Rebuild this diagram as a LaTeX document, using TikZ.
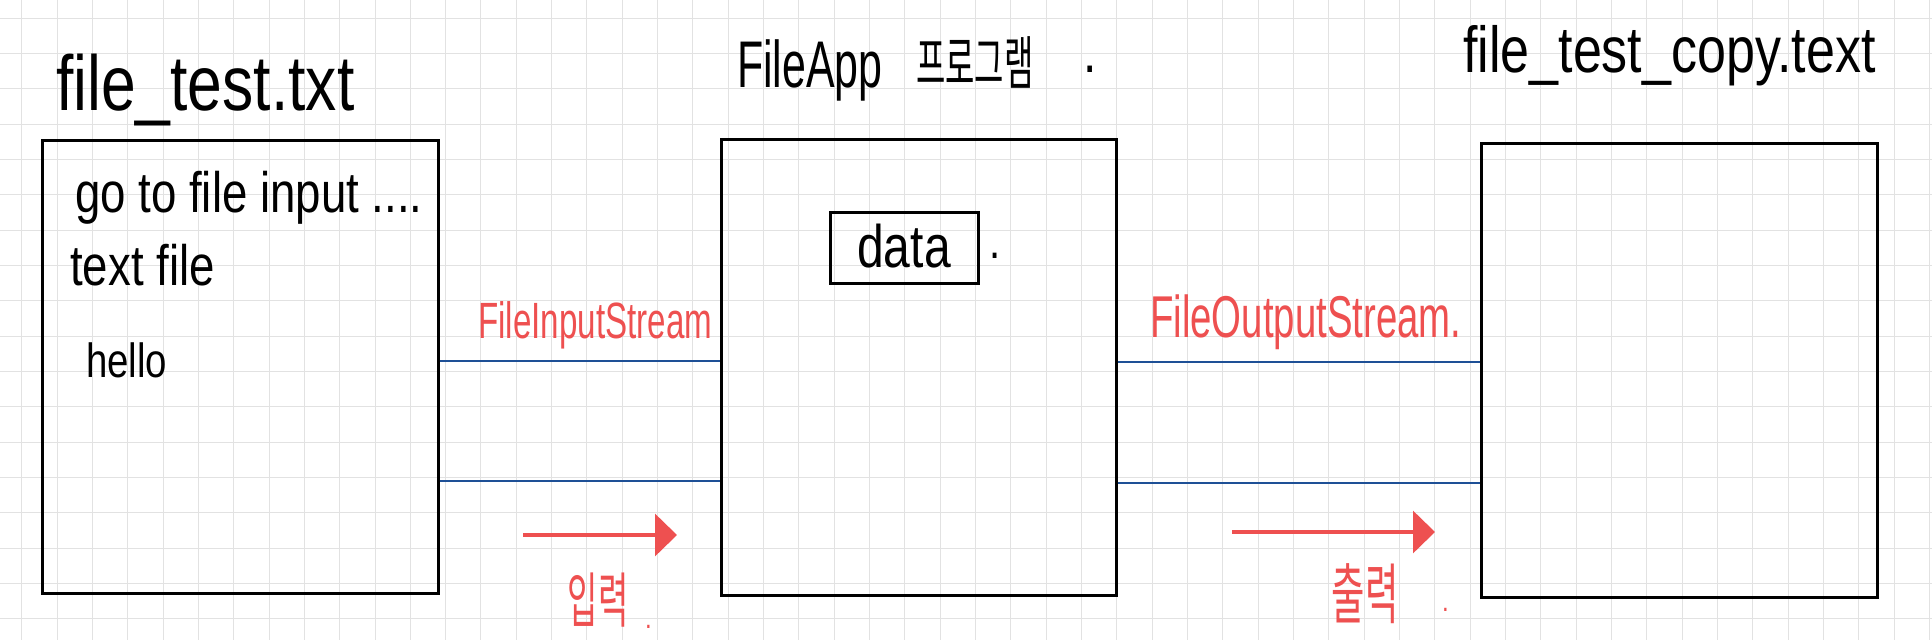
\documentclass[tikz,border=0pt]{standalone}
\usepackage{fontspec}
\setmainfont{Liberation Sans}
\newfontfamily\hand[FakeStretch=0.8]{Liberation Sans}
\newfontfamily\handn[FakeStretch=0.65]{Liberation Sans}
\newfontfamily\kr[FakeStretch=0.55]{Noto Sans CJK KR}
\usetikzlibrary{arrows.meta}
\definecolor{gridc}{RGB}{226,226,226}
\definecolor{flowblue}{RGB}{30,80,150}
\definecolor{penred}{RGB}{238,80,80}
\begin{document}
\begin{tikzpicture}[x=1pt,y=-1pt,
  gridline/.style={draw=gridc,line width=1pt},
  filebox/.style={draw=black,line width=3pt,rectangle,inner sep=0pt},
  flow/.style={draw=flowblue,line width=2.3pt},
  redarrow/.style={draw=penred,line width=3.5pt,-{Triangle[length=22pt,width=42pt]}},
  txt/.style={inner sep=0pt,anchor=base west},
  redtxt/.style={txt,text=penred}
]
\useasboundingbox (0,0) rectangle (1932,640);
\fill[white] (0,0) rectangle (1932,640);
% grid
\foreach \i in {0,...,54} {\draw[gridline] ({21.7+35.33*\i},0) -- ({21.7+35.33*\i},640);}
\foreach \j in {0,...,17} {\draw[gridline] (0,{18.3+35.33*\j}) -- (1932,{18.3+35.33*\j});}

% boxes
\node[filebox,minimum width=396pt,minimum height=453pt] (lbox) at (240,366.5) {};
\node[filebox,minimum width=395pt,minimum height=456pt] (mbox) at (918.5,367) {};
\node[filebox,minimum width=396pt,minimum height=454pt] (rbox) at (1679,370) {};
\node[filebox,minimum width=148pt,minimum height=71pt,font=\hand\fontsize{60}{60}\selectfont,text height=43pt,text depth=4pt] (data) at (904,247.5) {data};
\node[txt,font=\hand\fontsize{50}{50}\selectfont] (datadot) at (989,258) {.};

% titles
\node[txt,font=\hand\fontsize{78}{80}\selectfont] (tin) at (56,110) {file\_test.txt};
\node[txt,font=\handn\fontsize{66}{68}\selectfont] (tapp) at (737,87) {FileApp};
\node[txt,font=\kr\fontsize{58}{60}\selectfont] (tprog) at (916,84) {프로그램};
\node[txt,font=\hand\fontsize{60}{60}\selectfont] (tdot) at (1083,72) {.};
\node[txt,font=\hand\fontsize{65}{66}\selectfont] (tout) at (1463,72) {file\_test\_copy.text};

% file content
\node[txt,font=\hand\fontsize{57}{58}\selectfont] (l1) at (75,212) {go to file input ....};
\node[txt,font=\hand\fontsize{57}{58}\selectfont] (l2) at (70,285) {text file};
\node[txt,font=\hand\fontsize{48}{48}\selectfont] (l3) at (86,377) {hello};

% streams
\draw[flow] (lbox.east |- 0,361) -- (mbox.west |- 0,361);
\draw[flow] (lbox.east |- 0,481) -- (mbox.west |- 0,481);
\draw[flow] (mbox.east |- 0,362) -- (rbox.west |- 0,362);
\draw[flow] (mbox.east |- 0,483) -- (rbox.west |- 0,483);

\node[redtxt,font=\handn\fontsize{51}{52}\selectfont] (fis) at (478,338) {FileInputStream};
\node[redtxt,font=\handn\fontsize{59}{60}\selectfont] (fos) at (1150,337) {FileOutputStream.};

% arrows
\coordinate (ia1) at (523,535);
\coordinate (ia2) at (677,535);
\coordinate (oa1) at (1232,532);
\coordinate (oa2) at (1435,532);
\draw[redarrow] (ia1) -- (ia2);
\draw[redarrow] (oa1) -- (oa2);

\node[text=penred,inner sep=0pt,font=\kr\fontsize{60}{60}\selectfont] (inlbl) at (598,600) {입력};
\node[redtxt,font=\hand\fontsize{30}{30}\selectfont] (indot) at (645,628) {.};
\node[text=penred,inner sep=0pt,font=\kr\fontsize{66}{66}\selectfont] (outlbl) at (1365,594) {출력};
\node[redtxt,font=\hand\fontsize{30}{30}\selectfont] (outdot) at (1442,611) {.};
\end{tikzpicture}
\end{document}
